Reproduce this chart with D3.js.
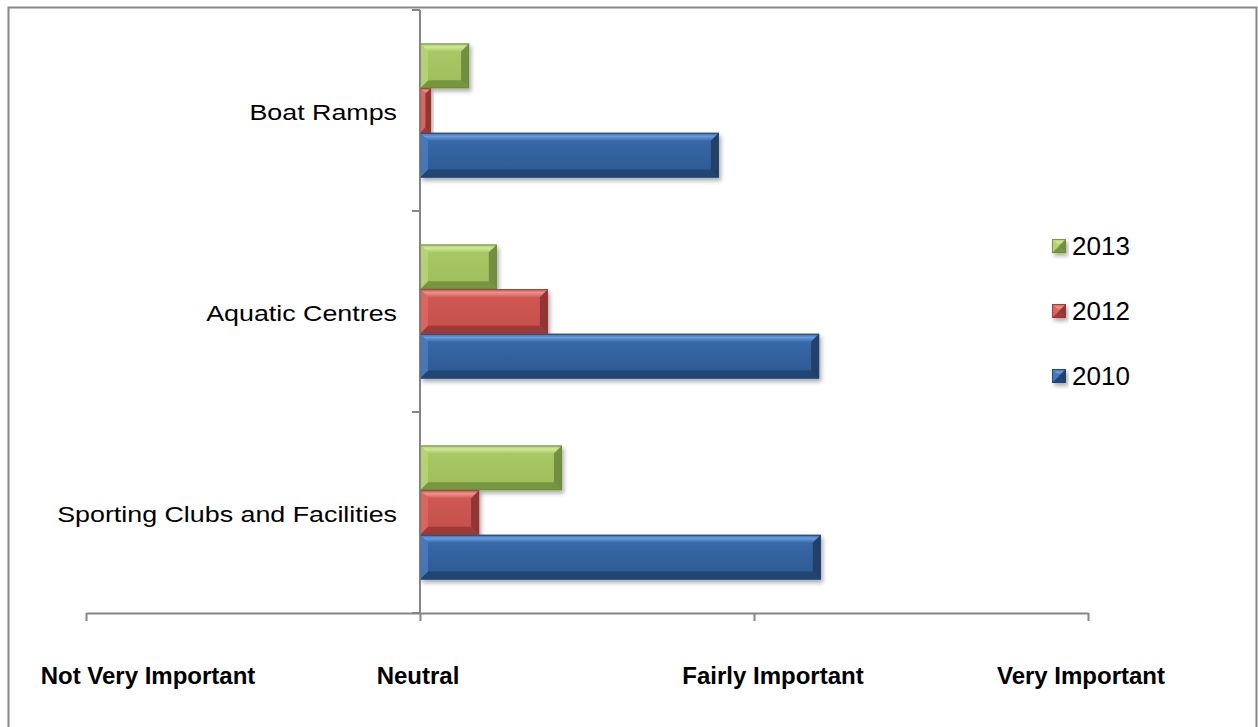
<!DOCTYPE html>
<html>
<head>
<meta charset="utf-8">
<script src="https://cdn.jsdelivr.net/npm/d3@7"></script>
<style>
  html, body { margin: 0; padding: 0; background: #fff; }
  svg { display: block; font-family: "Liberation Sans", Arial, sans-serif; }
</style>
</head>
<body>
<svg id="chart" width="1258" height="727"></svg>
<script>
// Importance ratings by facility type (0 = Neutral, 1 = Fairly Important)
const categories = ["Boat Ramps", "Aquatic Centres", "Sporting Clubs and Facilities"];
const seriesNames = ["2013", "2012", "2010"];
const values2013 = [0.147, 0.230, 0.425];
const values2012 = [0.033, 0.383, 0.177];
const values2010 = [0.895, 1.195, 1.200];
const tickValues = [-1, 0, 1, 2];
const tickLabels = ["Not Very Important", "Neutral", "Fairly Important", "Very Important"];

const seriesValues = { "2013": values2013, "2012": values2012, "2010": values2010 };

// bevelled fill palettes for each series
const palettes = {
  "2010": { top: "#6a9ee0", faceA: "#3a6bab", faceB: "#2c5890", bottom: "#1f3d66", left: "#4b7dc0", right: "#1e3a62", edge: "#1f4372" },
  "2012": { top: "#f09490", faceA: "#d25a55", faceB: "#c24f4b", bottom: "#8e3431", left: "#dc6a65", right: "#8a2f2d", edge: "#953633" },
  "2013": { top: "#d2ea98", faceA: "#a9ca66", faceB: "#9dbe5b", bottom: "#6c873a", left: "#b8d57a", right: "#6a8539", edge: "#6d8a3b" }
};

const svg = d3.select("#chart");

// outer chart frame (open at the bottom edge of the page)
svg.append("rect")
  .attr("x", 8.5).attr("y", 7.5)
  .attr("width", 1248).attr("height", 740)
  .attr("fill", "none").attr("stroke", "#878787").attr("stroke-width", 2);

const x = d3.scaleLinear().domain([-1, 2]).range([86, 1088]);
const y = d3.scaleBand().domain(categories).range([10, 613]);
const barH = y.bandwidth() / (seriesNames.length + 1.5);
const yInner = d3.scaleBand().domain(seriesNames)
  .range([0.75 * barH, 0.75 * barH + seriesNames.length * barH]);

const defs = svg.append("defs");
const shadow = defs.append("filter").attr("id", "shadow")
  .attr("x", "-10%").attr("y", "-20%").attr("width", "130%").attr("height", "160%");
shadow.append("feDropShadow")
  .attr("dx", 2).attr("dy", 3).attr("stdDeviation", 2.2)
  .attr("flood-color", "#000").attr("flood-opacity", 0.32);

Object.entries(palettes).forEach(([k, p]) => {
  const g = defs.append("linearGradient").attr("id", "face" + k)
    .attr("x1", 0).attr("y1", 0).attr("x2", 0).attr("y2", 1);
  g.append("stop").attr("offset", "0%").attr("stop-color", p.faceA);
  g.append("stop").attr("offset", "100%").attr("stop-color", p.faceB);
  const t = defs.append("linearGradient").attr("id", "top" + k)
    .attr("x1", 0).attr("y1", 0).attr("x2", 0).attr("y2", 1);
  t.append("stop").attr("offset", "0%").attr("stop-color", p.faceA);
  t.append("stop").attr("offset", "45%").attr("stop-color", p.top);
  t.append("stop").attr("offset", "100%").attr("stop-color", p.faceA);
});

// axes
const axisColor = "#868686";
const yAxis = svg.append("g").attr("transform", `translate(${x(0)},0)`)
  .call(d3.axisLeft(y).tickValues([]).tickSizeOuter(0));
yAxis.select(".domain").remove();
yAxis.append("line")
  .attr("x1", 0).attr("x2", 0).attr("y1", y.range()[0]).attr("y2", y.range()[1])
  .attr("stroke", axisColor).attr("stroke-width", 2);
const boundaries = categories.map(c => y(c)).concat([y.range()[1]]);
yAxis.selectAll("line.cat-tick").data(boundaries).join("line")
  .attr("class", "cat-tick")
  .attr("x1", -8).attr("x2", 0)
  .attr("y1", d => d).attr("y2", d => d)
  .attr("stroke", axisColor).attr("stroke-width", 2);

const xAxis = svg.append("g").attr("transform", `translate(0,${y.range()[1]})`)
  .call(d3.axisBottom(x).tickValues(tickValues).tickSize(8).tickSizeOuter(0).tickFormat(""));
xAxis.select(".domain").attr("stroke", axisColor).attr("stroke-width", 2);
xAxis.selectAll(".tick line").attr("stroke", axisColor).attr("stroke-width", 2);

// category labels (slightly widened lettering)
svg.append("g").selectAll("g").data(categories).join("g")
  .attr("transform", d => `translate(${x(0) - 23},${y(d) + y.bandwidth() / 2 + 9}) scale(1.22,1)`)
  .append("text")
  .attr("text-anchor", "end")
  .attr("font-size", 22)
  .attr("fill", "#000")
  .text(d => d);

// value-axis labels (shifted as laid out under the ticks)
const labelShift = [62, -2, 19, -7];
svg.append("g").selectAll("text").data(tickValues).join("text")
  .attr("x", (d, i) => x(d) + labelShift[i])
  .attr("y", 684)
  .attr("text-anchor", "middle")
  .attr("font-size", 24)
  .attr("font-weight", "bold")
  .attr("fill", "#000")
  .text((d, i) => tickLabels[i]);

// bevelled bar
function bevelBar(g, x0, x1, y0, h, key) {
  const p = palettes[key];
  const w = x1 - x0;
  const b = Math.min(8, w / 2, h / 2);
  const bar = g.append("g").attr("filter", "url(#shadow)");
  bar.append("rect").attr("x", x0).attr("y", y0).attr("width", w).attr("height", h)
    .attr("fill", `url(#face${key})`);
  const pts = a => a.map(q => q.join(",")).join(" ");
  bar.append("polygon").attr("fill", `url(#top${key})`).attr("opacity", 0.95)
    .attr("points", pts([[x0, y0], [x1, y0], [x1 - b, y0 + b], [x0 + b, y0 + b]]));
  bar.append("polygon").attr("fill", p.bottom).attr("opacity", 0.75)
    .attr("points", pts([[x0, y0 + h], [x1, y0 + h], [x1 - b, y0 + h - b], [x0 + b, y0 + h - b]]));
  bar.append("polygon").attr("fill", p.left).attr("opacity", 0.8)
    .attr("points", pts([[x0, y0], [x0 + b, y0 + b], [x0 + b, y0 + h - b], [x0, y0 + h]]));
  bar.append("polygon").attr("fill", p.right).attr("opacity", 0.85)
    .attr("points", pts([[x1, y0], [x1 - b, y0 + b], [x1 - b, y0 + h - b], [x1, y0 + h]]));
  bar.append("rect").attr("x", x0 + 0.5).attr("y", y0 + 0.5).attr("width", Math.max(0, w - 1)).attr("height", h - 1)
    .attr("fill", "none").attr("stroke", p.edge).attr("stroke-width", 1).attr("opacity", 0.8);
}

const barsG = svg.append("g");
categories.forEach((c, ci) => {
  seriesNames.forEach(s => {
    const v = seriesValues[s][ci];
    const x0 = x(Math.min(0, v)), x1 = x(Math.max(0, v));
    bevelBar(barsG, x0, x1, y(c) + yInner(s), yInner.bandwidth(), s);
  });
});

// redraw the value axis line over the bar bases
svg.append("line")
  .attr("x1", x(0)).attr("x2", x(0)).attr("y1", y.range()[0]).attr("y2", y.range()[1])
  .attr("stroke", axisColor).attr("stroke-width", 2).attr("opacity", 0.6);

// legend
const legendRows = [
  { name: "2013", cy: 246 },
  { name: "2012", cy: 311 },
  { name: "2010", cy: 376 }
];
const lg = svg.append("g");
legendRows.forEach(r => {
  bevelBar(lg, 1052, 1066, r.cy - 7, 14, r.name);
  lg.append("text").attr("x", 1072).attr("y", r.cy + 9)
    .attr("font-size", 26).attr("fill", "#000").text(r.name);
});
</script>
</body>
</html>
